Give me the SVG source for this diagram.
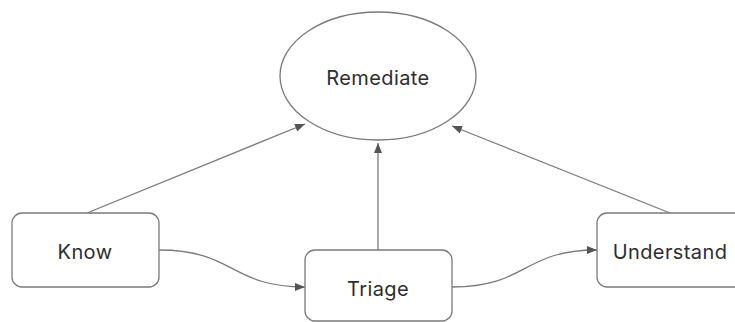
<svg xmlns="http://www.w3.org/2000/svg" width="735" height="322" viewBox="0 0 735 322">
<style>
.node{fill:#fff;stroke:#7a7a7a;stroke-width:1.3}
.lbl{font-family:Inter,"Noto Sans","Liberation Sans",sans-serif;font-size:20px;letter-spacing:0.4px;fill:#2e2e2e;text-anchor:middle}
.edge{fill:none;stroke:#7a7a7a;stroke-width:1.3}
</style>
<defs>
<marker id="arr" viewBox="0 0 10 10" refX="10" refY="5" markerWidth="10" markerHeight="10" markerUnits="userSpaceOnUse" orient="auto">
<path d="M0,1 L10,5 L0,9 Z" fill="#555"/>
</marker>
</defs>
<rect width="735" height="322" fill="#fff"/>
<g id="connectors">
<path class="edge" d="M87,213 L305,124" marker-end="url(#arr)"/>
<path class="edge" d="M378,250 L378,143" marker-end="url(#arr)"/>
<path class="edge" d="M670,213 L452,126" marker-end="url(#arr)"/>
<path class="edge" d="M159,250 C235,250 230,287 305,287" marker-end="url(#arr)"/>
<path class="edge" d="M452,287 C528,287 522,250 597,250" marker-end="url(#arr)"/>
</g>
<g id="remediate">
<ellipse class="node" cx="378" cy="76" rx="98" ry="64"/>
<text class="lbl" x="378" y="85">Remediate</text>
</g>
<g id="know">
<rect class="node" x="12" y="213" width="147" height="74" rx="10"/>
<text class="lbl" x="85" y="259">Know</text>
</g>
<g id="triage">
<rect class="node" x="305" y="250" width="147" height="71" rx="10"/>
<text class="lbl" x="378" y="296">Triage</text>
</g>
<g id="understand">
<rect class="node" x="597" y="213" width="150" height="74" rx="10"/>
<text class="lbl" x="670" y="259">Understand</text>
</g>
</svg>
